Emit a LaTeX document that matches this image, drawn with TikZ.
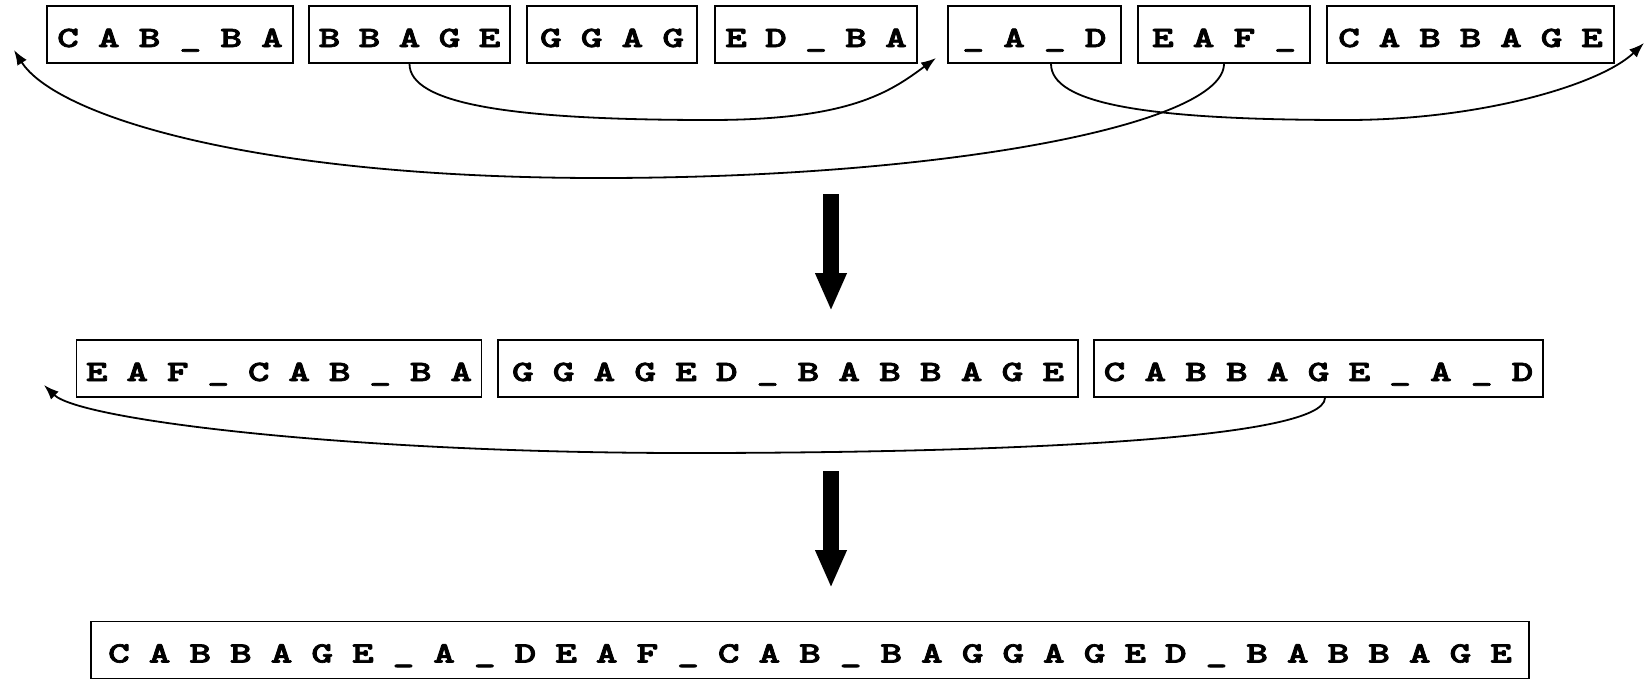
\documentclass[tikz,border=0pt]{standalone}
\usepackage{graphicx}
\usepackage{fontspec}
\newfontfamily\segfont{lmmonolt10-bold.otf}[FakeBold=2.2]
\usetikzlibrary{arrows.meta,calc}
\newlength\pitch
\newcommand\ltr[1]{\makebox[\pitch]{\scalebox{1.4}[1]{#1}}}
\newcommand\spell[2][40.8pt]{\setlength\pitch{#1}\spellloop#2\relax}
\def\spellloop#1{\ifx\relax#1\else\ltr{#1}\expandafter\spellloop\fi}
\tikzset{
  seg/.style={draw, line width=1.6pt, inner sep=0pt, text height=41pt, text depth=16pt,
    font=\fontsize{29.5pt}{30pt}\segfont},
  link/.style={line width=1.8pt, -{Latex[length=15pt,width=11pt]}},
  bigarrow/.style={line width=16pt, -{Triangle[length=38pt,width=29pt]}}
}
\begin{document}
\begin{tikzpicture}[x=1pt,y=-1pt]
\useasboundingbox (0,0) rectangle (1646,678);
% top row
\node[seg, minimum width=246pt] (b1) at (170,34.5) {\spell{CAB\_BA}};
\node[seg, minimum width=201pt] (b2) at (409.5,34.5) {\spell[40pt]{BBAGE}};
\node[seg, minimum width=170pt] (b3) at (612,34.5) {\spell{GGAG}};
\node[seg, minimum width=202pt] (b4) at (816,34.5) {\spell[40pt]{ED\_BA}};
\node[seg, minimum width=173pt] (b5) at (1034.5,34.5) {\spell{\_A\_D}};
\node[seg, minimum width=172pt] (b6) at (1224,34.5) {\spell{EAF\_}};
\node[seg, minimum width=287pt] (b7) at (1470.5,34.5) {\spell[40.5pt]{CABBAGE}};
% middle row
\node[seg, minimum width=404pt] (m1) at (279,368.5) {\spell[40.5pt]{EAF\_CAB\_BA}};
\node[seg, minimum width=580pt] (m2) at (788,368.5) {\spell{GGAGED\_BABBAGE}};
\node[seg, minimum width=449pt] (m3) at (1318.5,368.5) {\spell{CABBAGE\_A\_D}};
% bottom row
\node[seg, minimum width=1438pt] (f) at (810,650) {\spell[40.65pt]{CABBAGE\_A\_DEAF\_CAB\_BAGGAGED\_BABBAGE}};
% coordinates
\coordinate (sB) at ([xshift=16.5pt]b5.south);
\coordinate (sD) at ([xshift=6.5pt]m3.south);
\coordinate (mA) at (710,120);
\coordinate (tA) at (936,58);
\coordinate (mB) at (1347,120);
\coordinate (tB) at (1644,43);
\coordinate (mC) at (600,178);
\coordinate (tC) at (14,50);
\coordinate (mD) at (687,453);
\coordinate (tD) at (44,385);
\coordinate (k1s) at (831,194);
\coordinate (k1e) at (831,311);
\coordinate (k2s) at (831,471);
\coordinate (k2e) at (831,588);
% connectors
\draw[link] (b2.south) .. controls +(0,40) and +(-200,0) .. (mA) .. controls +(140,0) and (890,92) .. (tA);
\draw[link] (sB) .. controls +(0,40) and +(-200,0) .. (mB) .. controls +(133,0) and (1600,85) .. (tB);
\draw[link] (b6.south) .. controls +(0,60) and +(350,0) .. (mC) .. controls +(-350,0) and (55,115) .. (tC);
\draw[link] (sD) .. controls +(0,42) and +(313,0) .. (mD) .. controls +(-337,0) and (80,420) .. (tD);
\draw[bigarrow] (k1s) -- (k1e);
\draw[bigarrow] (k2s) -- (k2e);
\end{tikzpicture}
\end{document}
